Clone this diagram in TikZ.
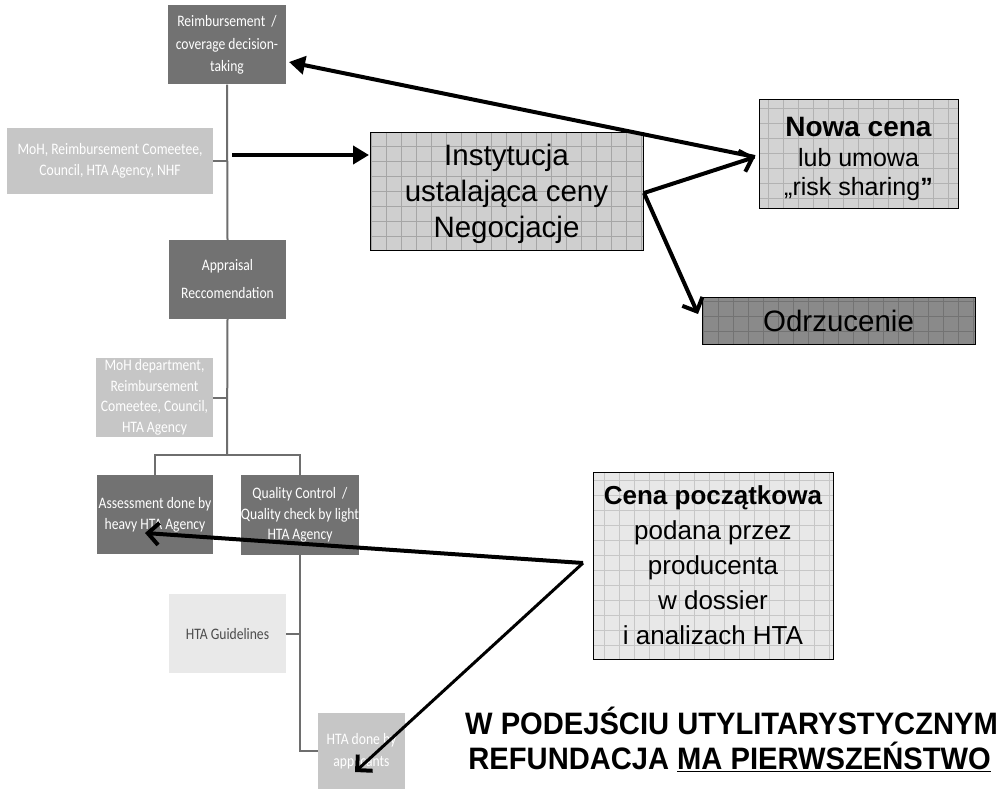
\documentclass[tikz,border=0pt]{standalone}
\usepackage{fontspec}
\setmainfont{Liberation Sans}
\newfontfamily\calibri[FakeStretch=0.85]{Carlito}
\newfontfamily\bottomfont[FakeStretch=0.94]{Liberation Sans}
\usetikzlibrary{arrows.meta}
\definecolor{darkbox}{HTML}{727272}
\definecolor{lightbox}{HTML}{C6C6C6}
\definecolor{paleb}{HTML}{E9E9E9}
\definecolor{trunkc}{HTML}{6E6E6E}
\definecolor{instc}{HTML}{CFCFCF}
\definecolor{nowac}{HTML}{D3D3D3}
\definecolor{odrzc}{HTML}{8A8A8A}
\definecolor{cenac}{HTML}{E8E8E8}
\tikzset{
  gbox/.style={inner sep=0pt, align=center, text=white, font=\calibri\fontsize{16}{20.5}\selectfont},
  darkb/.style={gbox, fill=darkbox},
  lightb/.style={gbox, fill=lightbox},
  trunk/.style={draw=trunkc, line width=2pt},
  gridbox/.style={draw=black, line width=0.8pt, inner sep=0pt, align=center,
    path picture={\draw[draw=#1, line width=0.5pt] (path picture bounding box.south west) grid[step=15pt] (path picture bounding box.north east);}},
  bigtext/.style={font=\fontsize{29.5}{36}\selectfont},
  arr/.style={draw=black, line width=4pt, -{Straight Barb[length=11pt,width=22pt,line width=4pt]}},
  arrt/.style={draw=black, line width=4pt, -{Triangle[length=16pt,width=18pt]}}
}
\begin{document}
\begin{tikzpicture}[x=1pt,y=-1pt]
\useasboundingbox[fill=white] (0,0) rectangle (1003,789);
% gray org chart boxes
\node[darkb, minimum width=118pt, minimum height=79pt, font=\calibri\fontsize{16}{22.5}\selectfont] (reimb) at (227,45) {Reimbursement \ /\\coverage decision-\\taking};
\node[lightb, minimum width=206pt, minimum height=66pt] (moh) at (110,161) {MoH, Reimbursement Comeetee,\\Council, HTA Agency, NHF};
\node[darkb, minimum width=117pt, minimum height=79pt, font=\calibri\fontsize{16}{28}\selectfont] (appr) at (227.5,279.5) {Appraisal\\Reccomendation};
\node[lightb, minimum width=117pt, minimum height=79pt] (mohd) at (154.5,397.5) {MoH department,\\Reimbursement\\Comeetee, Council,\\HTA Agency};
\node[darkb, minimum width=116pt, minimum height=79pt, font=\calibri\fontsize{16}{21}\selectfont] (assess) at (155,514.5) {Assessment done by\\heavy HTA Agency};
\node[darkb, minimum width=116pt, minimum height=80pt] (qual) at (300,515) {Quality Control \ /\\Quality check by light\\HTA Agency};
\node[gbox, fill=paleb, text=black!70, minimum width=117pt, minimum height=79pt] (guide) at (227.5,633.5) {HTA Guidelines};
\node[lightb, minimum width=87pt, minimum height=77pt, font=\calibri\fontsize{16}{22}\selectfont] (htadone) at (361.5,751) {HTA done by\\applicants};
% trunk lines
\coordinate (br) at (227,455);
\coordinate (bl) at (155,455);
\coordinate (brr) at (300,455);
\coordinate (t1) at (227,161);
\coordinate (t2) at (227,397.5);
\coordinate (t3) at (300,633.5);
\draw[trunk] (reimb.south) -- (appr.north);
\draw[trunk] (appr.south) -- (br);
\draw[trunk] (assess.north) -- (bl) -- (brr) -- (qual.north);
\draw[trunk] (qual.south) |- (htadone.west);
\draw[trunk] (moh.east) -- (t1);
\draw[trunk] (mohd.east) -- (t2);
\draw[trunk] (guide.east) -- (t3);
% grid boxes
\node[gridbox=black!35, fill=instc, minimum width=273pt, minimum height=118pt] (inst) at (506.5,191) {};
\node[bigtext, align=center, inner sep=0pt] (instt) at (506.5,194) {Instytucja\\ustalająca ceny\\Negocjacje};
\node[gridbox=black!30, fill=nowac, minimum width=199pt, minimum height=109pt] (nowa) at (858.5,153.5) {};
\node[align=center, inner sep=0pt, font=\fontsize{25}{29.5}\selectfont] (nowat) at (858.5,159) {{\fontsize{28}{29.5}\selectfont\textbf{Nowa cena}}\\lub umowa\\„risk sharing\textbf{”}};
\node[gridbox=black!55, fill=odrzc, minimum width=273pt, minimum height=47pt, bigtext] (odrz) at (838.5,320.5) {Odrzucenie};
\node[gridbox=black!22, fill=cenac, minimum width=240pt, minimum height=187pt, font=\fontsize{26}{35}\selectfont] (cena) at (713,565.5) {\textbf{Cena początkowa}\\podana przez\\producenta\\w dossier\\i analizach HTA};
% arrows
\coordinate (nw) at (755,157);
\coordinate (rtip) at (289,62);
\coordinate (ie) at (644,193);
\coordinate (tr) at (232,155);
\coordinate (ip) at (369,155);
\coordinate (otip) at (698,314);
\coordinate (cs) at (583,563);
\coordinate (atip) at (145,533);
\coordinate (htip) at (355,772);
\draw[arrt] (nw) -- (rtip);
\draw[arr] (ie) -- (nw);
\draw[arrt] (tr) -- (ip);
\draw[arr] (ie) -- (otip);
\draw[arr] (cs) -- (atip);
\draw[arr, line width=3pt] (cs) -- (htip);
% bottom text
\node[anchor=east, inner sep=0pt, font=\bottomfont\bfseries\fontsize{31}{34}\selectfont] (t1b) at (998,721) {W PODEJŚCIU UTYLITARYSTYCZNYM};
\node[anchor=east, inner sep=0pt, font=\bottomfont\bfseries\fontsize{31}{34}\selectfont] (t2b) at (991,757) {REFUNDACJA \underline{MA PIERWSZEŃSTWO}};
\end{tikzpicture}
\end{document}
